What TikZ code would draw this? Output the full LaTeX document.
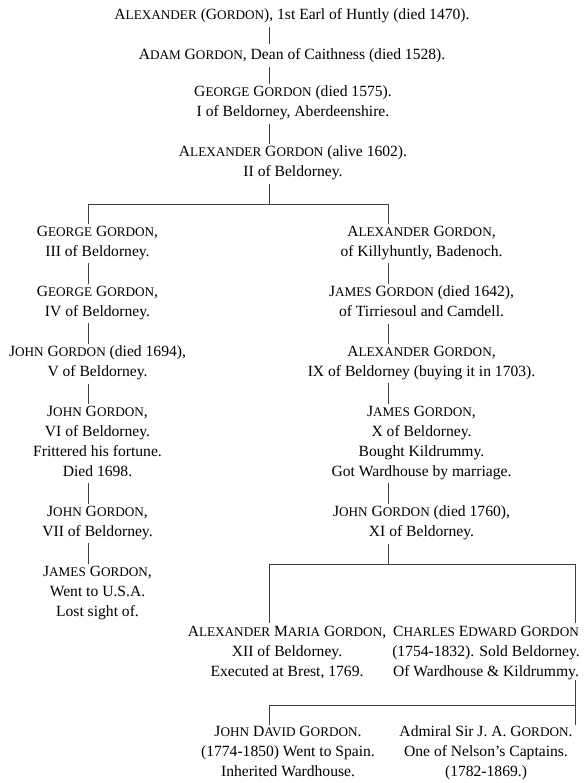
\documentclass[tikz,border=0pt]{standalone}
\usepackage{fontspec}
\setmainfont{Liberation Serif}
\newcommand\sC[1]{{\fontsize{13.2}{20}\selectfont #1}}
\tikzset{
  person/.style={anchor=north, align=center, inner sep=0pt, outer sep=0pt,
    font=\fontsize{15.6}{20}\selectfont,
    execute at begin node=\strut, execute at end node=\strut},
  link/.style={line width=0.9pt, draw=black!75}
}
\begin{document}
\begin{tikzpicture}[x=1pt,y=1pt]
\useasboundingbox (0,0) rectangle (585,-783);
% column guide coordinates
\coordinate (Mx) at (269,0);
\coordinate (Lx) at (88,0);
\coordinate (Rx) at (388,0);
\coordinate (Ax) at (269,0);
\coordinate (Bx) at (575,0);
\coordinate (fa) at (0,-204);
\coordinate (fb) at (0,-564);
\coordinate (fc) at (0,-705);
% top line
\node[person] (t1) at (292,-6) {A\sC{LEXANDER} (G\sC{ORDON}), 1st Earl of Huntly (died 1470).};
\node[person] (t2) at (292,-46) {A\sC{DAM} G\sC{ORDON}, Dean of Caithness (died 1528).};
\node[person] (t3) at (293,-86) {G\sC{EORGE} G\sC{ORDON} (died 1575).\\ I of Beldorney, Aberdeenshire.};
\node[person] (t4) at (293,-146) {A\sC{LEXANDER} G\sC{ORDON} (alive 1602).\\ II of Beldorney.};
% left branch
\node[person] (l1) at (97.5,-226) {G\sC{EORGE} G\sC{ORDON},\\ III of Beldorney.};
\node[person] (l2) at (97.5,-286) {G\sC{EORGE} G\sC{ORDON},\\ IV of Beldorney.};
\node[person] (l3) at (97.5,-346) {J\sC{OHN} G\sC{ORDON} (died 1694),\\ V of Beldorney.};
\node[person] (l4) at (97.5,-406) {J\sC{OHN} G\sC{ORDON},\\ VI of Beldorney.\\ Frittered his fortune.\\ Died 1698.};
\node[person] (l5) at (97.5,-506) {J\sC{OHN} G\sC{ORDON},\\ VII of Beldorney.};
\node[person] (l6) at (97.5,-566) {J\sC{AMES} G\sC{ORDON},\\ Went to U.S.A.\\ Lost sight of.};
% right branch
\node[person] (r1) at (421.5,-226) {A\sC{LEXANDER} G\sC{ORDON},\\ of Killyhuntly, Badenoch.};
\node[person] (r2) at (421.5,-286) {J\sC{AMES} G\sC{ORDON} (died 1642),\\ of Tirriesoul and Camdell.};
\node[person] (r3) at (421.5,-346) {A\sC{LEXANDER} G\sC{ORDON},\\ IX of Beldorney (buying it in 1703).};
\node[person] (r4) at (421.5,-406) {J\sC{AMES} G\sC{ORDON},\\ X of Beldorney.\\ Bought Kildrummy.\\ Got Wardhouse by marriage.};
\node[person] (r5) at (421.5,-506) {J\sC{OHN} G\sC{ORDON} (died 1760),\\ XI of Beldorney.};
% lower generations
\node[person] (b1) at (287,-626) {A\sC{LEXANDER} M\sC{ARIA} G\sC{ORDON},\\ XII of Beldorney.\\ Executed at Brest, 1769.};
\node[person] (b2) at (486,-626) {C\sC{HARLES} E\sC{DWARD} G\sC{ORDON}\\ (1754-1832). Sold Beldorney.\\ Of Wardhouse \& Kildrummy.};
\node[person] (c1) at (288,-726) {J\sC{OHN} D\sC{AVID} G\sC{ORDON}.\\ (1774-1850) Went to Spain.\\ Inherited Wardhouse.};
\node[person] (c2) at (486,-726) {Admiral Sir J. A. G\sC{ORDON}.\\ One of Nelson's Captains.\\ (1782-1869.)};
% connectors: top chain
\draw[link] ([yshift=-1pt]t1.south -| Mx) -- ([yshift=2pt]t2.north -| Mx);
\draw[link] ([yshift=-1pt]t2.south -| Mx) -- ([yshift=2pt]t3.north -| Mx);
\draw[link] ([yshift=-1pt]t3.south -| Mx) -- ([yshift=2pt]t4.north -| Mx);
% first fork
\draw[link] ([yshift=-1pt]t4.south -| Mx) -- (Mx |- fa);
\draw[link] ([yshift=2pt]l1.north -| Lx) -- (Lx |- fa) -- (Rx |- fa) -- ([yshift=2pt]r1.north -| Rx);
% left chain
\draw[link] ([yshift=-1pt]l1.south -| Lx) -- ([yshift=2pt]l2.north -| Lx);
\draw[link] ([yshift=-1pt]l2.south -| Lx) -- ([yshift=2pt]l3.north -| Lx);
\draw[link] ([yshift=-1pt]l3.south -| Lx) -- ([yshift=2pt]l4.north -| Lx);
\draw[link] ([yshift=-1pt]l4.south -| Lx) -- ([yshift=2pt]l5.north -| Lx);
\draw[link] ([yshift=-1pt]l5.south -| Lx) -- ([yshift=2pt]l6.north -| Lx);
% right chain
\draw[link] ([yshift=-1pt]r1.south -| Rx) -- ([yshift=2pt]r2.north -| Rx);
\draw[link] ([yshift=-1pt]r2.south -| Rx) -- ([yshift=2pt]r3.north -| Rx);
\draw[link] ([yshift=-1pt]r3.south -| Rx) -- ([yshift=2pt]r4.north -| Rx);
\draw[link] ([yshift=-1pt]r4.south -| Rx) -- ([yshift=2pt]r5.north -| Rx);
% second fork
\draw[link] ([yshift=-1pt]r5.south -| Rx) -- (Rx |- fb);
\draw[link] ([yshift=3pt]b1.north -| Ax) -- (Ax |- fb) -- (Bx |- fb) -- ([yshift=3pt]b2.north -| Bx);
% third fork
\draw[link] ([yshift=2pt]b2.south -| Bx) -- ([yshift=1pt]c2.north -| Bx);
\draw[link] ([yshift=1pt]c1.north -| Ax) -- (Ax |- fc) -- (Bx |- fc);
\end{tikzpicture}
\end{document}
